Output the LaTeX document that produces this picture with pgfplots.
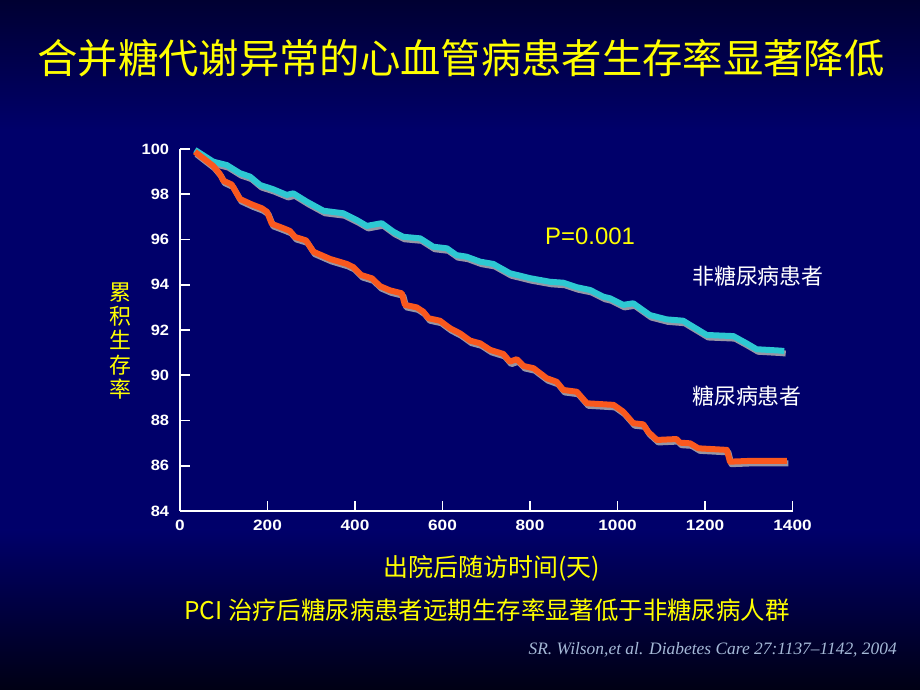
\documentclass[border=0pt]{standalone}
\usepackage{pgfplots}
\pgfplotsset{compat=1.18}
\usepackage{fontspec}
\setmainfont{Liberation Sans}
\newfontfamily\cjk{Noto Sans CJK SC}
\newfontfamily\citefont{Liberation Serif}

\definecolor{bgtop}{RGB}{0,0,50}
\definecolor{bgmid}{RGB}{0,0,106}
\definecolor{bgbot}{RGB}{0,0,20}
\definecolor{nodm}{RGB}{45,200,210}
\definecolor{dm}{RGB}{250,88,30}
\definecolor{shadowgray}{RGB}{150,150,165}
\definecolor{ttl}{RGB}{255,255,0}
\definecolor{citec}{RGB}{165,185,215}

\begin{document}
\begin{tikzpicture}
\fill[bgmid] (0,0) rectangle (920bp,690bp);
\shade[top color=bgtop, bottom color=bgmid] (0,560bp) rectangle (920bp,690bp);
\shade[top color=bgmid, bottom color=bgbot] (0,0) rectangle (920bp,160bp);

\begin{axis}[
  at={(180bp,179bp)}, anchor=south west,
  scale only axis, width=612.5bp, height=362bp,
  xmin=0, xmax=1400, ymin=84, ymax=100,
  axis x line=bottom, axis y line=left,
  axis line style={white, line width=2bp, -},
  xtick={0,200,...,1400}, ytick={84,86,...,100},
  tick align=inside, major tick length=10bp,
  tick style={white, line width=1.6bp},
  scaled ticks=false,
  /pgf/number format/1000 sep={},
  /pgf/number format/assume math mode=true,
  ticklabel style={white, font=\fontsize{15}{15}\selectfont\bfseries},
  yticklabel style={xshift=-7bp, xscale=1.1},
  xticklabel style={yshift=-6bp, xscale=1.15},
  clip=false
]
% non-diabetic
\addplot[shadowgray, line width=6bp, line join=round, xshift=1.5bp, yshift=-2.5bp] coordinates {
(34,99.96) (76,99.44) (107,99.29) (137,98.93) (160,98.78) (183,98.41) (213,98.22)
(244,97.97) (259,98.04) (290,97.67) (328,97.27) (373,97.16) (404,96.86) (427,96.60)
(461,96.72) (488,96.34) (510,96.12) (549,96.05) (579,95.68) (610,95.61) (632,95.31)
(655,95.24) (686,95.02) (716,94.92) (754,94.51) (800,94.29) (846,94.13) (876,94.09)
(907,93.89) (937,93.77) (968,93.47) (983,93.40) (1013,93.11) (1036,93.18) (1074,92.66)
(1112,92.47) (1150,92.41) (1204,91.78) (1265,91.73) (1295,91.41) (1318,91.15)
(1371,91.09) (1381,91.07)
};
\addplot[nodm, line width=6bp, line join=round] coordinates {
(34,99.96) (76,99.44) (107,99.29) (137,98.93) (160,98.78) (183,98.41) (213,98.22)
(244,97.97) (259,98.04) (290,97.67) (328,97.27) (373,97.16) (404,96.86) (427,96.60)
(461,96.72) (488,96.34) (510,96.12) (549,96.05) (579,95.68) (610,95.61) (632,95.31)
(655,95.24) (686,95.02) (716,94.92) (754,94.51) (800,94.29) (846,94.13) (876,94.09)
(907,93.89) (937,93.77) (968,93.47) (983,93.40) (1013,93.11) (1036,93.18) (1074,92.66)
(1112,92.47) (1150,92.41) (1204,91.78) (1265,91.73) (1295,91.41) (1318,91.15)
(1371,91.09) (1381,91.07)
};
% diabetic
\addplot[shadowgray, line width=6bp, line join=round, xshift=1.5bp, yshift=-2.5bp] coordinates {
(34,99.88) (76,99.25) (91,98.90) (99,98.60) (118,98.43) (137,97.79) (164,97.55)
(187,97.38) (199,97.22) (210,96.69) (236,96.50) (251,96.38) (263,96.11) (288,95.96)
(305,95.46) (343,95.14) (381,94.92) (396,94.78) (414,94.43) (439,94.28) (457,93.94)
(480,93.75) (507,93.62) (514,93.11) (541,93.00) (556,92.81) (568,92.52) (594,92.41)
(617,92.08) (640,91.85) (663,91.53) (686,91.41) (709,91.12) (739,90.94) (754,90.60)
(770,90.71) (785,90.41) (808,90.31) (838,89.87) (861,89.71) (876,89.35) (907,89.27)
(930,88.76) (991,88.69) (1013,88.39) (1036,87.88) (1059,87.83) (1070,87.50)
(1090,87.14) (1135,87.18) (1143,87.02) (1166,86.99) (1185,86.77) (1250,86.70)
(1257,86.18) (1310,86.22) (1387,86.22)
};
\addplot[dm, line width=6bp, line join=round] coordinates {
(34,99.88) (76,99.25) (91,98.90) (99,98.60) (118,98.43) (137,97.79) (164,97.55)
(187,97.38) (199,97.22) (210,96.69) (236,96.50) (251,96.38) (263,96.11) (288,95.96)
(305,95.46) (343,95.14) (381,94.92) (396,94.78) (414,94.43) (439,94.28) (457,93.94)
(480,93.75) (507,93.62) (514,93.11) (541,93.00) (556,92.81) (568,92.52) (594,92.41)
(617,92.08) (640,91.85) (663,91.53) (686,91.41) (709,91.12) (739,90.94) (754,90.60)
(770,90.71) (785,90.41) (808,90.31) (838,89.87) (861,89.71) (876,89.35) (907,89.27)
(930,88.76) (991,88.69) (1013,88.39) (1036,87.88) (1059,87.83) (1070,87.50)
(1090,87.14) (1135,87.18) (1143,87.02) (1166,86.99) (1185,86.77) (1250,86.70)
(1257,86.18) (1310,86.22) (1387,86.22)
};
\end{axis}

% slide texts
\node[ttl, inner sep=0] at (461bp,632bp) {\cjk\fontsize{40.5}{40.5}\selectfont 合并糖代谢异常的心血管病患者生存率显著降低};
\node[ttl, inner sep=0, align=center, font=\cjk\fontsize{22}{24.5}\selectfont] at (120bp,349bp) {累\\积\\生\\存\\率};
\node[ttl, inner sep=0, anchor=west] at (545bp,454bp) {\fontsize{24}{24}\selectfont P=0.001};
\node[white, inner sep=0, anchor=west] at (692bp,414bp) {\cjk\fontsize{22}{22}\selectfont 非糖尿病患者};
\node[white, inner sep=0, anchor=west] at (692bp,294bp) {\cjk\fontsize{22}{22}\selectfont 糖尿病患者};
\node[ttl, inner sep=0] at (492bp,122bp) {\cjk\fontsize{25}{25}\selectfont 出院后随访时间(天)};
\node[ttl, inner sep=0] at (487bp,80bp) {\cjk\fontsize{24.5}{24.5}\selectfont PCI 治疗后糖尿病患者远期生存率显著低于非糖尿病人群};
\node[citec, inner sep=0, anchor=east] at (897bp,40bp) {\citefont\itshape\fontsize{17.5}{17.5}\selectfont SR. Wilson,et al. Diabetes Care 27:1137–1142, 2004};
\end{tikzpicture}
\end{document}
